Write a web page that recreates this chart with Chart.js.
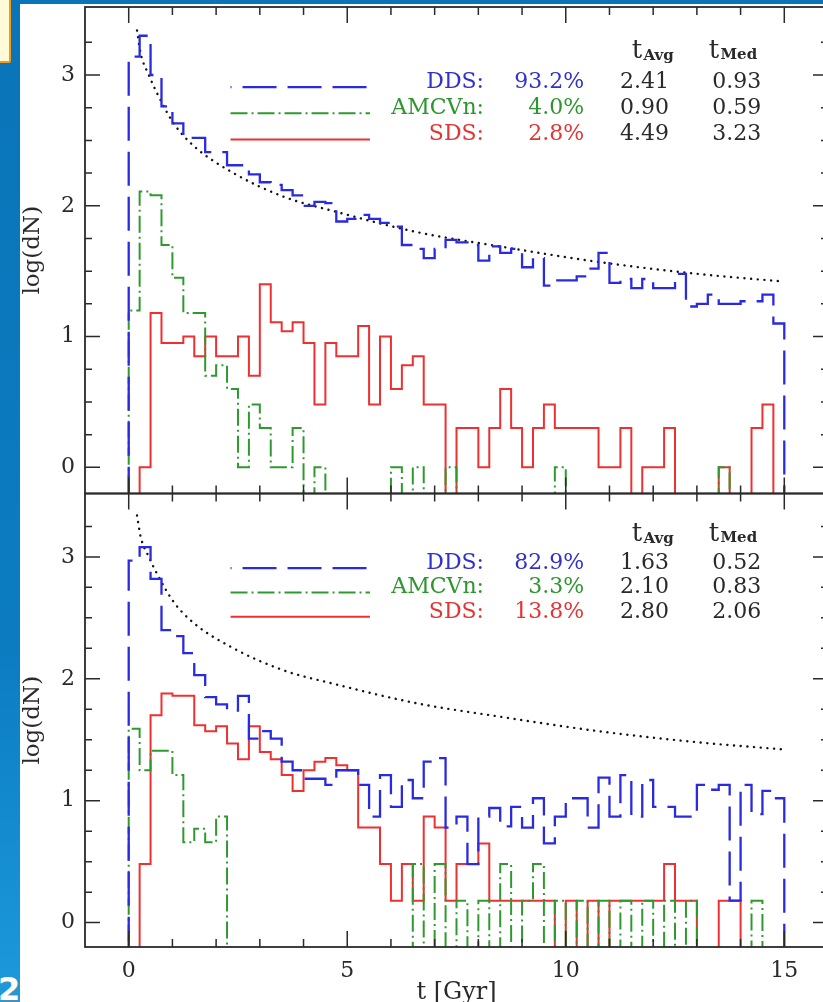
<!DOCTYPE html>
<html>
<head>
<meta charset="utf-8">
<title>Delay time distributions</title>
<script src="https://cdn.jsdelivr.net/npm/chart.js@4.4.1/dist/chart.umd.min.js"></script>
<style>
  html, body { margin: 0; padding: 0; width: 823px; height: 1002px; overflow: hidden; }
  body { position: relative; background: linear-gradient(180deg, #0a74b8 0%, #0c7cc1 65%, #1c9adc 100%); }
  #sheet { position: absolute; left: 20px; top: 4px; width: 803px; height: 998px; background: #fff; }
  #badge { position: absolute; left: -6px; top: -6px; width: 13px; height: 65px;
           background: #fffbd8; border: 2px solid #f39a1e; border-radius: 2px; }
  #slideNo { position: absolute; left: -2px; top: 970px; color: #fff; font: bold 32px "DejaVu Sans", sans-serif;
             text-shadow: 1px 1px 2px #5a8fb0; }
  canvas { position: absolute; left: 0; }
  #topPanel { top: 0; }
  #bottomPanel { top: 490px; }
</style>
</head>
<body>
<div id="sheet"></div>
<div id="badge"></div>
<div id="slideNo">2</div>
<canvas id="topPanel" width="840" height="500"></canvas>
<canvas id="bottomPanel" width="840" height="512"></canvas>
<script>
// histogram bin edges, t [Gyr]
const binEdges = [
  0, 0.25, 0.5, 0.75, 1, 1.25, 1.5, 1.75, 2, 2.25, 2.5, 2.75, 3, 3.25, 3.5, 3.75,
  4, 4.25, 4.5, 4.75, 5, 5.25, 5.5, 5.75, 6, 6.25, 6.5, 6.75, 7, 7.25, 7.5, 7.75,
  8, 8.25, 8.5, 8.75, 9, 9.25, 9.5, 9.75, 10, 10.25, 10.5, 10.75, 11, 11.25, 11.5, 11.75,
  12, 12.25, 12.5, 12.75, 13, 13.25, 13.5, 13.75, 14, 14.25, 14.5, 14.75, 15
];

// log(dN) per bin, null = empty bin
const topDDS = [
  3.14, 3.30, 3.00, 2.76, 2.63, 2.52, 2.52, 2.41, 2.41, 2.31,
  2.31, 2.24, 2.18, 2.16, 2.12, 2.08, 2.00, 2.03, 2.02, 1.88,
  1.90, 1.93, 1.90, 1.87, 1.84, 1.70, 1.67, 1.60, 1.67, 1.74,
  1.72, 1.70, 1.58, 1.69, 1.64, 1.67, 1.53, 1.60, 1.39, 1.43,
  1.43, 1.46, 1.52, 1.64, 1.41, 1.44, 1.37, 1.44, 1.37, 1.37,
  1.48, 1.23, 1.25, 1.32, 1.25, 1.25, 1.27, 1.27, 1.32, 1.10
];
const topAMCVn = [
  1.20, 2.11, 2.08, 1.70, 1.45, 1.18, 1.18, 0.70, 0.78, 0.60,
  0.00, 0.48, 0.30, 0.00, 0.00, 0.30, null, 0.00, null, null,
  null, null, null, null, 0.00, null, 0.00, null, null, 0.00,
  null, null, null, null, null, null, null, null, null, 0.00,
  null, null, null, null, null, null, null, null, null, null,
  null, null, null, null, 0.00, null, null, null, null, null
];
const topSDS = [
  null, 0.00, 1.18, 0.95, 0.95, 1.00, 0.85, 1.00, 0.85, 0.85,
  1.00, 0.70, 1.40, 1.11, 1.04, 1.11, 0.95, 0.48, 0.95, 0.85,
  0.85, 1.08, 0.48, 1.00, 0.60, 0.78, 0.85, 0.48, 0.48, null,
  0.30, 0.30, 0.00, 0.30, 0.60, 0.30, 0.00, 0.30, 0.48, 0.30,
  0.30, 0.30, 0.30, 0.00, 0.00, 0.30, null, 0.00, 0.00, 0.30,
  null, null, null, null, 0.00, null, null, 0.30, 0.48, null
];

const bottomDDS = [
  2.97, 3.08, 2.82, 2.40, 2.35, 2.21, 2.03, 1.85, 1.79, 1.74,
  1.86, 1.51, 1.57, 1.51, 1.32, 1.25, 1.18, 1.18, 1.13, 1.25,
  1.25, 1.13, 0.87, 1.21, 0.95, 1.17, 1.02, 1.32, 1.35, 0.78,
  0.87, 0.48, 0.87, 0.94, 0.79, 0.95, 0.78, 1.02, 0.65, 0.87,
  1.02, 1.02, 0.78, 1.19, 0.87, 1.21, 0.87, 1.17, 0.95, 0.95,
  0.87, 0.87, 1.13, 1.09, 1.13, 0.18, 1.13, 0.89, 1.08, 1.02
];
const bottomAMCVn = [
  1.59, 1.25, 1.41, 1.41, 1.21, 0.66, 0.77, 0.66, 0.87, null,
  null, null, null, null, null, null, null, null, null, null,
  null, null, null, null, null, null, 0.48, null, 0.48, null,
  0.18, null, 0.18, null, 0.48, null, 0.18, 0.48, null, 0.18,
  null, 0.18, null, 0.18, null, 0.18, null, 0.18, null, 0.18,
  null, 0.18, null, null, null, null, null, 0.18, null, null
];
const bottomSDS = [
  null, 0.48, 1.70, 1.88, 1.86, 1.86, 1.62, 1.57, 1.61, 1.47,
  1.34, 1.61, 1.40, 1.34, 1.21, 1.08, 1.25, 1.32, 1.35, 1.29,
  1.25, 0.78, 0.78, 0.48, 0.18, 0.48, 0.18, 0.87, 0.78, 0.18,
  0.48, 0.48, 0.65, 0.18, 0.18, 0.18, 0.18, 0.18, 0.18, null,
  0.18, null, 0.18, null, 0.18, 0.18, 0.18, 0.18, 0.18, 0.48,
  0.18, 0.18, null, null, 0.18, 0.18, null, null, null, null
];

// dotted reference curve (same in both panels)
const curveT   = [0.19, 0.27, 0.46, 0.65, 1.03, 1.48, 2.40, 3.54, 4.68, 6.58, 8.48, 10.76, 13.0, 15.0];
const curveLog = [3.34, 3.17, 3.00, 2.86, 2.63, 2.46, 2.25, 2.07, 1.96, 1.80, 1.69, 1.57, 1.48, 1.42];

// table text
const models = ['DDS:', 'AMCVn:', 'SDS:'];
const topShare = ['93.2%', '4.0%', '2.8%'];
const topAvg = ['2.41', '0.90', '4.49'];
const topMed = ['0.93', '0.59', '3.23'];
const bottomShare = ['82.9%', '3.3%', '13.8%'];
const bottomAvg = ['1.63', '2.10', '2.80'];
const bottomMed = ['0.52', '0.83', '2.06'];

// ticks
const xMajor = [0, 5, 10, 15];
const xTickLabels = ['0', '5', '10', '15'];
const yMajor = [0, 1, 2, 3];
const yTickLabels = ['0', '1', '2', '3'];

const BLUE = '#2a2ae0';
const GREEN = '#2e9a2e';
const RED = '#ee3030';
const INK = '#2a2a2a';
const FONT = '"DejaVu Serif", "Liberation Serif", serif';
const FLOOR = -0.6;   // empty bins drop below the axis

const styles = [
  { color: BLUE,  dash: [34, 11], offset: 33, width: 2.3, text: '#3232c8' },
  { color: GREEN, dash: [17, 4, 2, 4], offset: 0, width: 2.0, text: '#2e962e' },
  { color: RED,   dash: [], offset: 0, width: 2.0, text: '#e43434' }
];

function histPoints(values) {
  const pts = [{ x: binEdges[0], y: FLOOR }];
  values.forEach((v, i) => {
    const y = v === null ? FLOOR : v;
    pts.push({ x: binEdges[i], y: y });
    pts.push({ x: binEdges[i + 1], y: y });
  });
  pts.push({ x: binEdges[binEdges.length - 1], y: FLOOR });
  return pts;
}

function histSet(label, values, st) {
  return {
    label: label,
    data: histPoints(values),
    borderColor: st.color,
    borderWidth: st.width,
    borderDash: st.dash,
    borderDashOffset: 0,
    pointRadius: 0,
    tension: 0,
    fill: false,
    clip: 0
  };
}

function curveSet() {
  return {
    label: 'model',
    data: curveT.map((t, i) => ({ x: t, y: curveLog[i] })),
    borderColor: '#111',
    borderWidth: 2.4,
    borderDash: [0.1, 6.6],
    borderCapStyle: 'round',
    cubicInterpolationMode: 'monotone',
    pointRadius: 0,
    fill: false,
    clip: 0
  };
}

// frame, inward ticks, labels and the little table
const panelDecor = {
  id: 'panelDecor',
  afterDatasetsDraw(chart, args, opts) {
    const { ctx, chartArea: a, scales: { x, y } } = chart;
    ctx.save();
    ctx.setLineDash([]);
    ctx.strokeStyle = INK;

    ctx.lineWidth = 1.5;
    for (let t = 0; t <= 15; t++) {
      const px = x.getPixelForValue(t);
      const len = xMajor.includes(t) ? 16 : 8;
      ctx.beginPath();
      ctx.moveTo(px, a.top); ctx.lineTo(px, a.top + len);
      ctx.moveTo(px, a.bottom); ctx.lineTo(px, a.bottom - len);
      ctx.stroke();
    }
    for (let i = 0; i * 0.25 < y.max - 0.05; i++) {
      const v = i * 0.25;
      const py = y.getPixelForValue(v);
      const len = Number.isInteger(v) ? 15 : 7;
      ctx.beginPath();
      ctx.moveTo(a.left, py); ctx.lineTo(a.left + len, py);
      ctx.moveTo(a.right, py); ctx.lineTo(a.right - len, py);
      ctx.stroke();
    }

    ctx.lineWidth = 1.8;
    ctx.strokeRect(a.left, a.top, a.right - a.left, a.bottom - a.top);

    ctx.fillStyle = INK;
    ctx.font = '22px ' + FONT;
    ctx.textAlign = 'center';
    ctx.textBaseline = 'middle';
    yMajor.forEach((v, i) => ctx.fillText(yTickLabels[i], a.left - 17, y.getPixelForValue(v)));

    if (opts.xLabels) {
      xMajor.forEach((t, i) => ctx.fillText(xTickLabels[i], x.getPixelForValue(t), a.bottom + 24));
      ctx.font = '24px ' + FONT;
      ctx.fillText('t [Gyr]', (a.left + a.right) / 2, a.bottom + 46);
    }

    ctx.save();
    ctx.translate(33, (a.top + a.bottom) / 2);
    ctx.rotate(-Math.PI / 2);
    ctx.font = '23px ' + FONT;
    ctx.fillText('log(dN)', 0, 0);
    ctx.restore();

    // column headers
    ctx.textBaseline = 'alphabetic';
    ctx.textAlign = 'left';
    const hy = y.getPixelForValue(3.13);
    ctx.font = '26px ' + FONT;
    ctx.fillText('t', x.getPixelForValue(11.51), hy);
    ctx.fillText('t', x.getPixelForValue(13.27), hy);
    ctx.font = '600 15px ' + FONT;
    ctx.fillText('Avg', x.getPixelForValue(11.78), hy + 2);
    ctx.fillText('Med', x.getPixelForValue(13.54), hy + 1);

    // rows with line samples
    const rowLevels = [2.90, 2.70, 2.50];
    models.forEach((m, i) => {
      const st = styles[i];
      const py = y.getPixelForValue(rowLevels[i]);
      ctx.strokeStyle = st.color;
      ctx.lineWidth = st.width;
      ctx.setLineDash(st.dash);
      ctx.lineDashOffset = st.offset;
      ctx.beginPath();
      ctx.moveTo(x.getPixelForValue(2.33), py - 1);
      ctx.lineTo(x.getPixelForValue(5.52), py - 1);
      ctx.stroke();

      ctx.font = '22px ' + FONT;
      ctx.fillStyle = st.text;
      ctx.textAlign = 'right';
      ctx.fillText(m, x.getPixelForValue(8.13), py);
      ctx.fillText(opts.share[i], x.getPixelForValue(10.42), py);
      ctx.fillStyle = INK;
      ctx.textAlign = 'center';
      ctx.fillText(opts.avg[i], x.getPixelForValue(11.8), py);
      ctx.fillText(opts.med[i], x.getPixelForValue(13.91), py);
    });
    ctx.restore();
  }
};

function makePanel(id, sets, padding, table, xLabels) {
  return new Chart(document.getElementById(id), {
    type: 'line',
    data: {
      datasets: [
        histSet('DDS', sets[0], styles[0]),
        histSet('AMCVn', sets[1], styles[1]),
        histSet('SDS', sets[2], styles[2]),
        curveSet()
      ]
    },
    options: {
      responsive: false,
      animation: false,
      layout: { padding: padding },
      plugins: {
        legend: { display: false },
        tooltip: { enabled: false },
        panelDecor: { share: table[0], avg: table[1], med: table[2], xLabels: xLabels }
      },
      scales: {
        x: { type: 'linear', min: -1, max: 16, display: false },
        y: { type: 'linear', min: -0.2, max: 3.52, display: false }
      }
    },
    plugins: [panelDecor]
  });
}

makePanel('topPanel', [topDDS, topAMCVn, topSDS],
  { left: 85, right: 12, top: 7, bottom: 6.5 },
  [topShare, topAvg, topMed], false);

makePanel('bottomPanel', [bottomDDS, bottomAMCVn, bottomSDS],
  { left: 85, right: 12, top: 3.5, bottom: 55 },
  [bottomShare, bottomAvg, bottomMed], true);
</script>
</body>
</html>
